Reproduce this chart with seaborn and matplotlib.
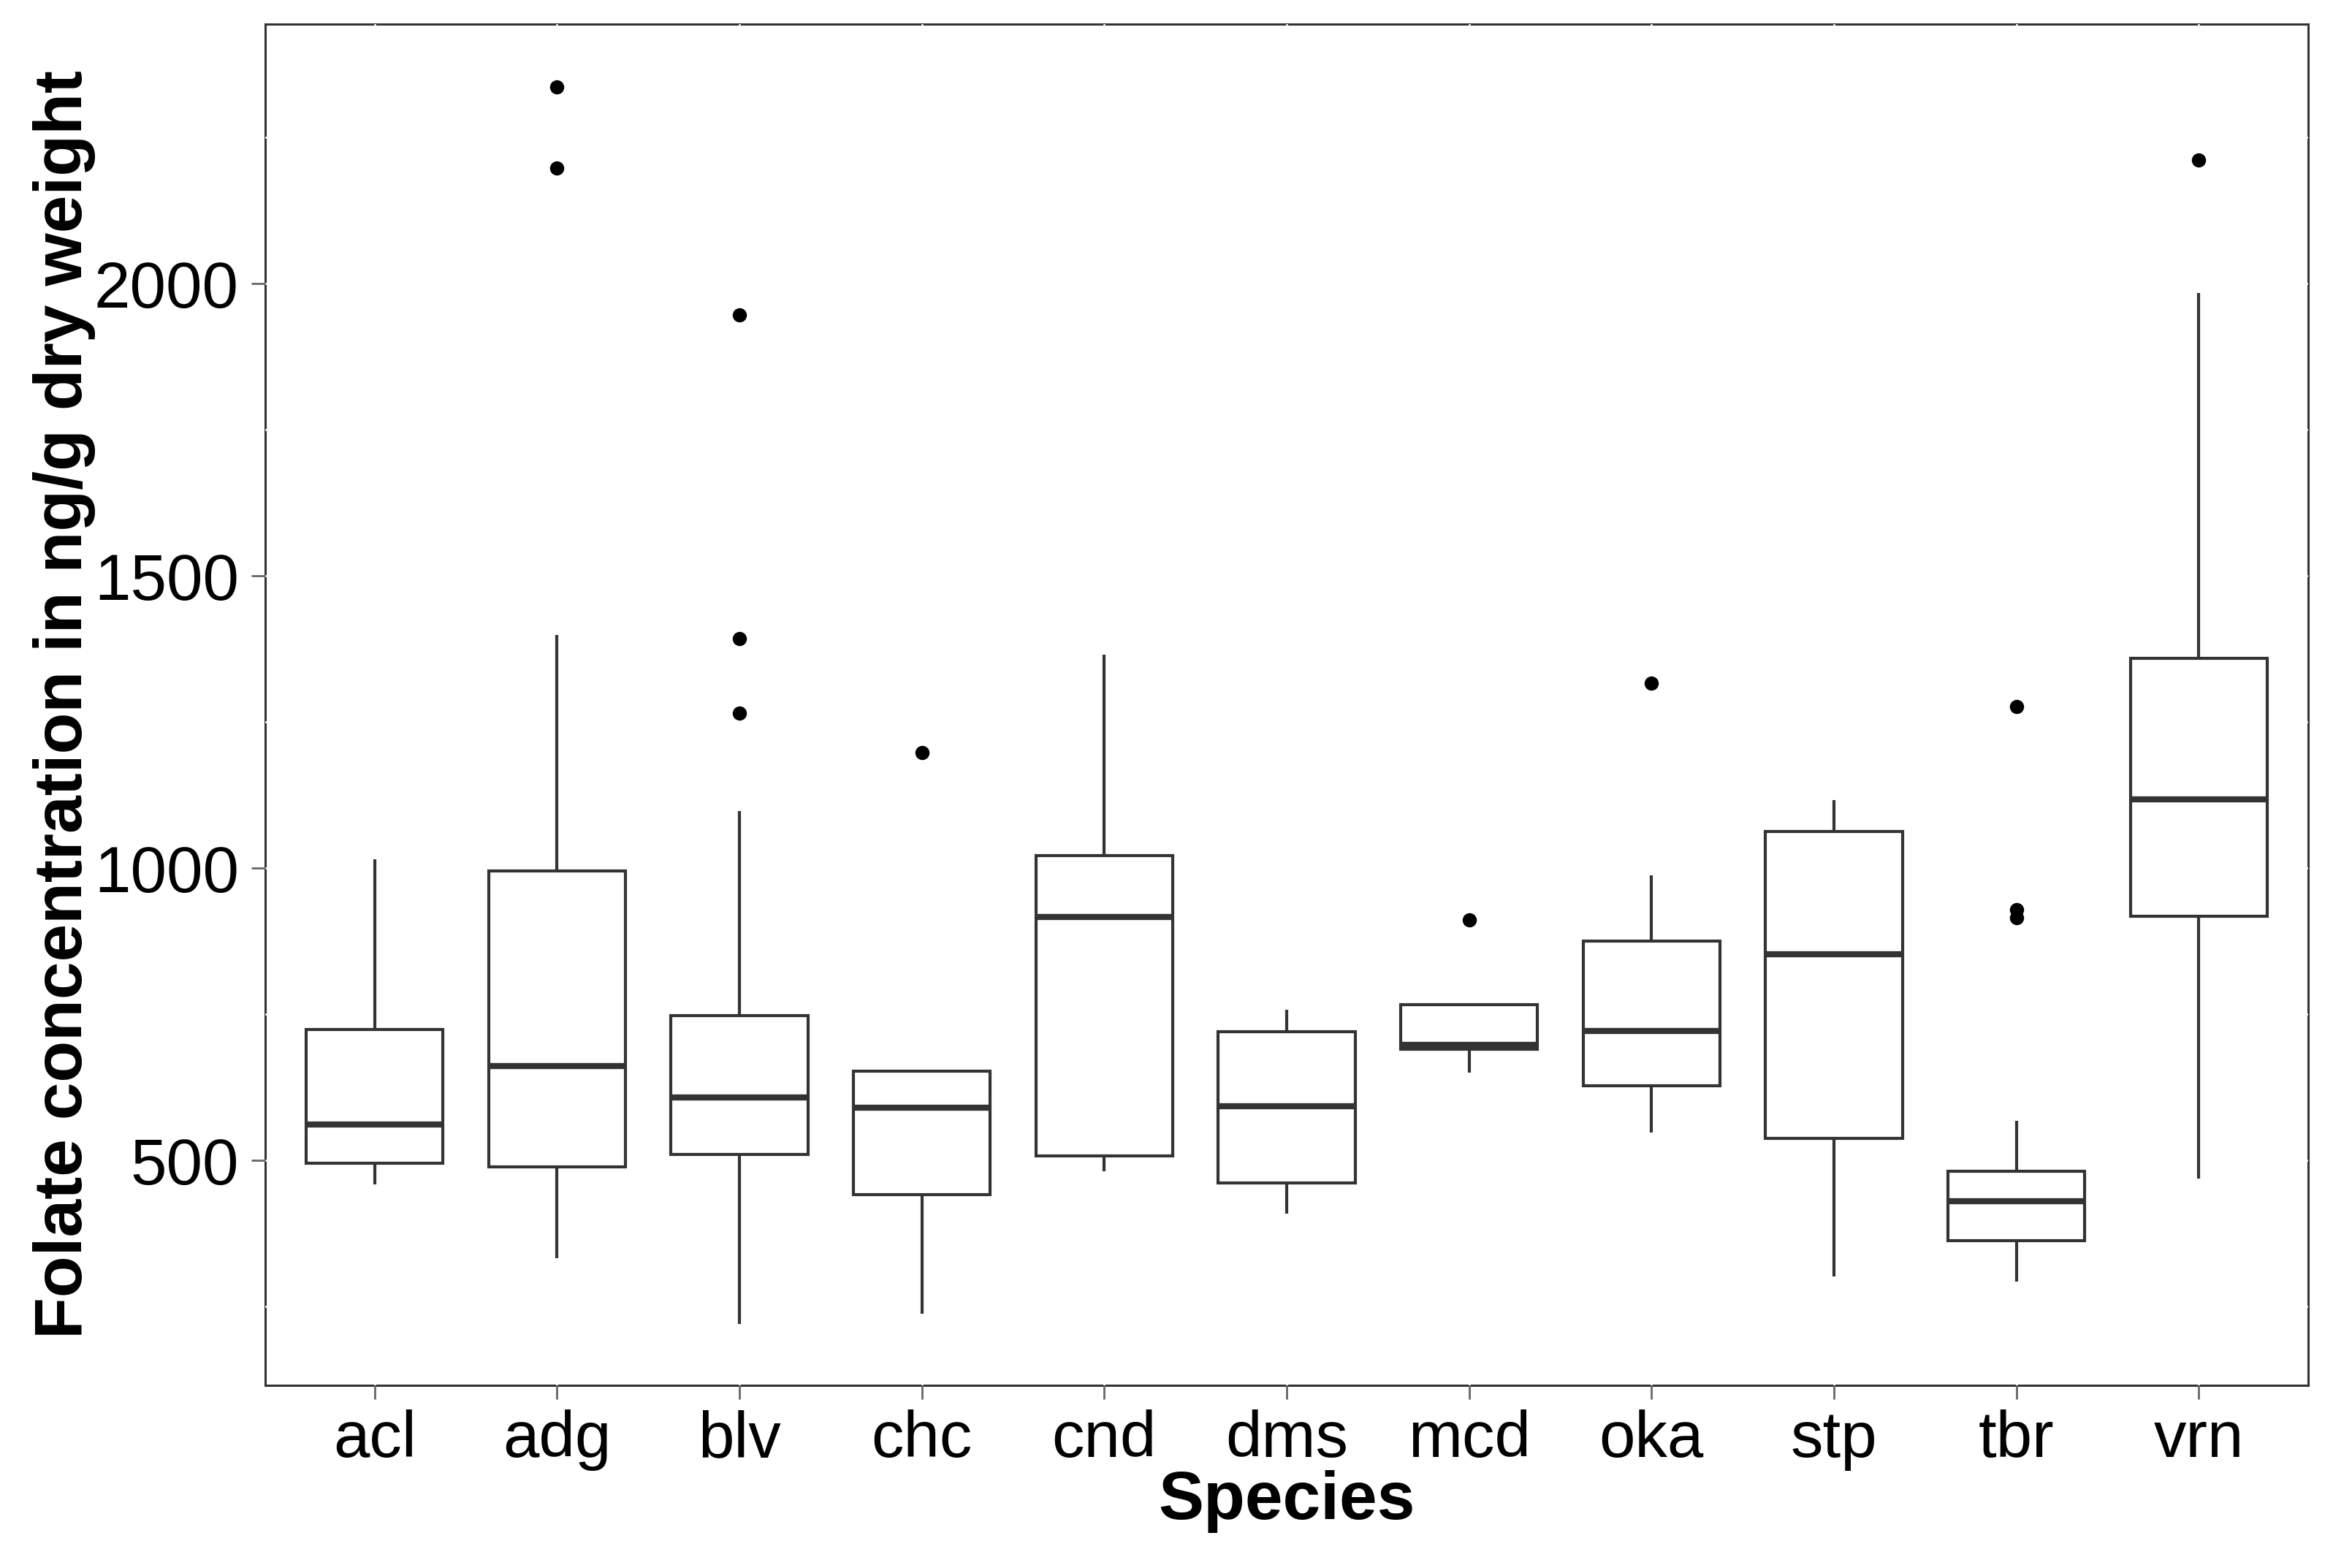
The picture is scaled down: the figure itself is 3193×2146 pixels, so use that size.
import numpy as np
import pandas as pd
import matplotlib
matplotlib.use("Agg")
import matplotlib.pyplot as plt
import seaborn as sns

# ---- values ----
species = ["acl", "adg", "blv", "chc", "cnd", "dms", "mcd", "oka", "stp", "tbr", "vrn"]
whisker_low = [459, 332, 220, 237, 481, 409, 650, 547, 301, 292, 469]
q1_vals = [495, 489, 510, 441, 507, 461, 690, 627, 537, 363, 917]
median_vals = [561, 661, 607, 590, 916, 592, 697, 721, 852, 430, 1117]
q3_vals = [724, 995, 748, 652, 1021, 720, 766, 875, 1063, 481, 1359]
whisker_high = [1015, 1399, 1098, 652, 1365, 758, 766, 988, 1116, 567, 1984]
outliers = [[], [2198, 2337], [1265, 1393, 1946], [1197], [], [], [911],
            [1317], [], [915, 929, 1276], [2211]]
y_ticks = [500, 1000, 1500, 2000]
y_minor = [250, 750, 1250, 1750, 2250]

# ---- build samples whose box statistics reproduce the values above ----
rows = []
for sp, lo, q1, med, q3, hi, out in zip(species, whisker_low, q1_vals, median_vals,
                                        q3_vals, whisker_high, outliers):
    m = len(out)
    a = 2 * m + 4
    b = m + 4
    sample = [lo] + [q1] * a + [med] + [q3] * b + [hi] + list(out)
    rows += [(sp, v) for v in sample]
df = pd.DataFrame(rows, columns=["Species", "Folate"])

sns.set_theme(style="white")
plt.rcParams["font.family"] = ["Liberation Sans", "DejaVu Sans"]

fig = plt.figure(figsize=(3193 / 200, 2146 / 200), dpi=200)
ax = fig.add_axes([363 / 3193, 1 - 1896 / 2146, (3159 - 363) / 3193, (1896 - 33) / 2146])

line_col = "#333333"
sns.boxplot(data=df, x="Species", y="Folate", order=species, ax=ax,
            color="white", linecolor=line_col, linewidth=1.5, width=0.75,
            showcaps=False,
            medianprops=dict(linewidth=3.0, color=line_col),
            flierprops=dict(marker="o", markerfacecolor="black",
                            markeredgecolor="black", markersize=6.0))

ax.set_xlim(-0.6, len(species) - 0.4)
ax.set_ylim(115, 2444)
ax.set_yticks(y_ticks)
ax.set_yticks(y_minor, minor=True)

# white grid lines (only visible where they cross the frame)
ax.set_axisbelow(True)
ax.grid(True, which="both", axis="both", color="white", linewidth=0.9)
for s in ax.spines.values():
    s.set_visible(True)
    s.set_color(line_col)
    s.set_linewidth(1.1)
    s.set_zorder(0.3)

ax.tick_params(axis="both", which="major", direction="out", length=7, width=1.0,
               color="#666666", labelsize=32, labelcolor="black", pad=6,
               left=True, bottom=True)
ax.tick_params(axis="y", which="minor", length=0)
ax.tick_params(axis="x", pad=5)

ax.set_xlabel("Species", fontsize=33.5, fontweight="bold", color="black")
ax.set_ylabel("Folate concentration in ng/g dry weight", fontsize=33.5,
              fontweight="bold", color="black")
ax.xaxis.set_label_coords(0.5, -0.062)
ax.yaxis.set_label_coords(-0.083, 0.5)

fig.savefig("out.png", dpi=200, facecolor="white")
